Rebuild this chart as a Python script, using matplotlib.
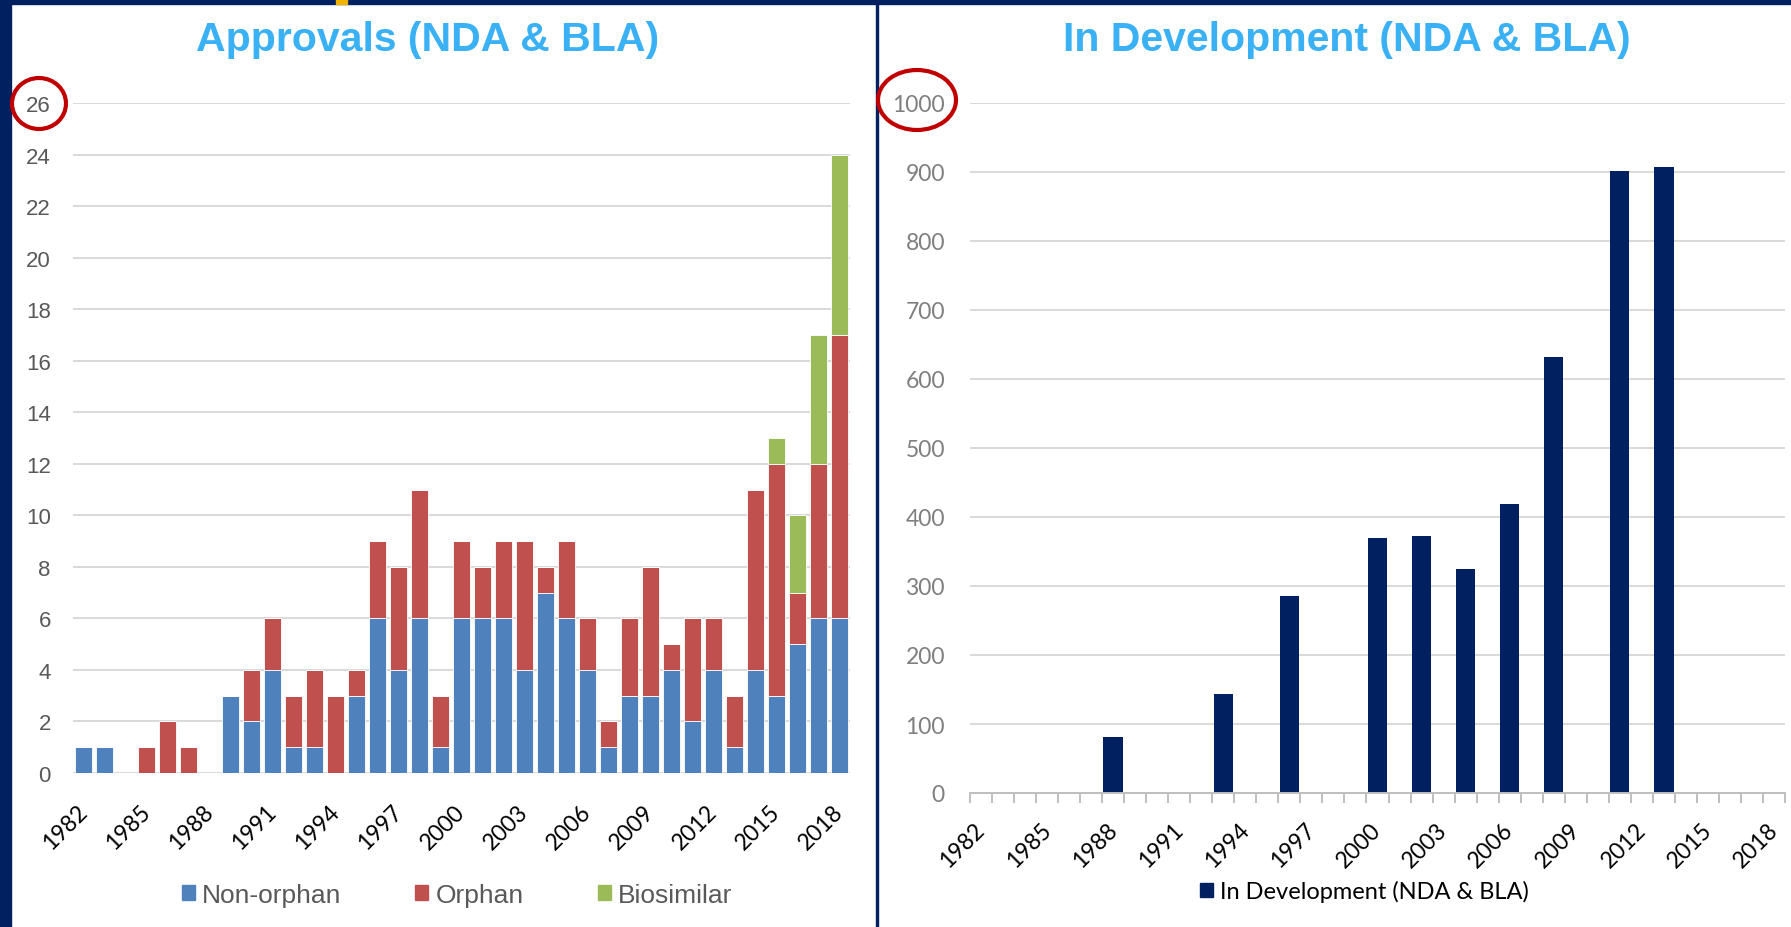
import matplotlib
matplotlib.use("Agg")
import matplotlib.pyplot as plt
from matplotlib.patches import Patch, Rectangle, Ellipse
from matplotlib import transforms

# Approvals per year (stacked)
years = list(range(1982, 2019))
non_orphan = [1, 1, 0, 0, 0, 0, 0, 3, 2, 4, 1, 1, 0, 3, 6, 4, 6, 1, 6, 6, 6, 4,
              7, 6, 4, 1, 3, 3, 4, 2, 4, 1, 4, 3, 5, 6, 6]
orphan = [0, 0, 0, 1, 2, 1, 0, 0, 2, 2, 2, 3, 3, 1, 3, 4, 5, 2, 3, 2, 3, 5,
          1, 3, 2, 1, 3, 5, 1, 4, 2, 2, 7, 9, 2, 6, 11]
biosimilar = [0, 0, 0, 0, 0, 0, 0, 0, 0, 0, 0, 0, 0, 0, 0, 0, 0, 0, 0, 0, 0, 0,
              0, 0, 0, 0, 0, 0, 0, 0, 0, 0, 0, 1, 3, 5, 7]

# In development
dev_years = [1988, 1993, 1996, 2000, 2002, 2004, 2006, 2008, 2011, 2013]
dev_values = [81, 144, 285, 369, 372, 324, 419, 632, 901, 907]

label_years = years[::3]

C_BLUE = '#4F81BD'
C_RED = '#C0504D'
C_GREEN = '#9BBB59'
C_NAVY = '#002060'
C_TITLE = '#3AB0F5'
C_GRID = '#D9D9D9'

W, H = 1791, 928
fig = plt.figure(figsize=(W / 100, H / 100), dpi=100)

def fx(px):
    return px / W

def fy(py):
    return 1 - py / H

# frame decorations
fig.add_artist(Rectangle((0, 0), fx(11), 1, transform=fig.transFigure, color=C_NAVY, zorder=0))
fig.add_artist(Rectangle((0, fy(5)), 1, 5 / H, transform=fig.transFigure, color=C_NAVY, zorder=0))
fig.add_artist(Rectangle((fx(336), fy(5)), fx(11), 5 / H, transform=fig.transFigure, color='#F0B400', zorder=1))
fig.add_artist(Rectangle((fx(876), 0), fx(2), fy(5), transform=fig.transFigure, color=C_NAVY, zorder=0))

# shift for the rotated year labels (Excel puts the end of the text at the category)
off = transforms.ScaledTranslation(0.05, 0, fig.dpi_scale_trans)

# ---- left: approvals ----
ax1 = fig.add_axes([fx(73), fy(774), fx(850 - 73), (774 - 104) / H])
bottom2 = [a + b for a, b in zip(non_orphan, orphan)]
ax1.bar(years, non_orphan, width=0.79, color=C_BLUE, edgecolor='white', linewidth=0.6)
ax1.bar(years, orphan, width=0.79, bottom=non_orphan, color=C_RED, edgecolor='white', linewidth=0.6)
ax1.bar(years, biosimilar, width=0.79, bottom=bottom2, color=C_GREEN, edgecolor='white', linewidth=0.6)
ax1.set_xlim(1981.5, 2018.5)
ax1.set_ylim(0, 26)
ax1.set_yticks(range(0, 27, 2))
ax1.set_axisbelow(True)
ax1.yaxis.grid(True, color=C_GRID, linewidth=1.4)
for s in ax1.spines.values():
    s.set_visible(False)
ax1.tick_params(axis='y', length=0, pad=16, labelsize=16, labelcolor='#595959')
for t in ax1.get_yticklabels():
    t.set_family('Liberation Sans')
ax1.set_xticks(label_years)
ax1.set_xticklabels([str(y) for y in label_years], rotation=45, ha='right', va='baseline',
                    rotation_mode='anchor', fontsize=16.5, family='Lato', color='black')
ax1.tick_params(axis='x', length=0, pad=28.5)
for t in ax1.get_xticklabels():
    t.set_transform(t.get_transform() + off)

fig.text(fx(428), fy(40), 'Approvals (NDA & BLA)', ha='center', va='center',
         fontsize=29.5, weight='bold', color=C_TITLE, family='Liberation Sans')

h1 = [Patch(color=C_BLUE), Patch(color=C_RED), Patch(color=C_GREEN)]
fig.legend(h1, ['Non-orphan', 'Orphan', 'Biosimilar'], loc='center',
           bbox_to_anchor=(fx(457), fy(896)), ncol=3, frameon=False,
           handlelength=0.5, handleheight=0.5, handletextpad=0.27, columnspacing=2.8,
           prop={'family': 'Liberation Sans', 'size': 19}, labelcolor='#595959')

# ---- right: in development ----
ax2 = fig.add_axes([fx(970), fy(794), fx(1785 - 970), (794 - 104) / H])
ax2.bar(dev_years, dev_values, width=0.88, color=C_NAVY, label='In Development (NDA & BLA)')
ax2.set_xlim(1981.5, 2018.5)
ax2.set_ylim(0, 1000)
ax2.set_yticks(range(0, 1001, 100))
ax2.set_axisbelow(True)
ax2.yaxis.grid(True, color=C_GRID, linewidth=1.4)
for s in ['top', 'left', 'right']:
    ax2.spines[s].set_visible(False)
ax2.spines['bottom'].set_color('#BFBFBF')
ax2.spines['bottom'].set_linewidth(1.4)
ax2.tick_params(axis='y', length=0, pad=18, labelsize=16.5, labelcolor='#7F7F7F')
for t in ax2.get_yticklabels():
    t.set_family('Lato')
ax2.set_xticks(label_years)
ax2.set_xticklabels([str(y) for y in label_years], rotation=45, ha='right', va='baseline',
                    rotation_mode='anchor', fontsize=16.5, family='Lato', color='black')
ax2.set_xticks([y - 0.5 for y in years] + [2018.5], minor=True)
ax2.tick_params(axis='x', which='major', length=0, pad=27.1)
ax2.tick_params(axis='x', which='minor', length=7, width=1.4, color='#BFBFBF')
for t in ax2.get_xticklabels():
    t.set_transform(t.get_transform() + off)

fig.text(fx(1347), fy(40), 'In Development (NDA & BLA)', ha='center', va='center',
         fontsize=29.5, weight='bold', color=C_TITLE, family='Liberation Sans')

fig.legend(handles=[Patch(color=C_NAVY)], labels=['In Development (NDA & BLA)'], loc='center',
           bbox_to_anchor=(fx(1364), fy(892)), frameon=False,
           handlelength=0.55, handleheight=0.55, handletextpad=0.3,
           prop={'family': 'Lato', 'size': 17}, labelcolor='black')

# red circles drawn over the top tick labels
fig.add_artist(Ellipse((fx(39), fy(104.5)), fx(54), 51 / H, transform=fig.transFigure,
                       fill=False, edgecolor='#C00000', linewidth=3, zorder=5))
fig.add_artist(Ellipse((fx(917), fy(101)), fx(78), 60 / H, transform=fig.transFigure,
                       fill=False, edgecolor='#C00000', linewidth=3, zorder=5))

fig.savefig('out.png', dpi=100)
